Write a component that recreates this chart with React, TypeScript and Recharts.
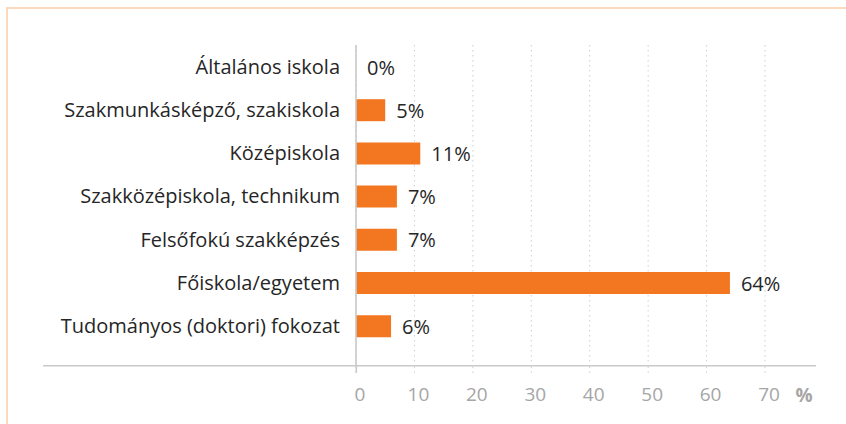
import { BarChart, Bar, XAxis, YAxis, CartesianGrid, LabelList, Customized } from 'recharts';

const categories = [
  'Általános iskola',
  'Szakmunkásképző, szakiskola',
  'Középiskola',
  'Szakközépiskola, technikum',
  'Felsőfokú szakképzés',
  'Főiskola/egyetem',
  'Tudományos (doktori) fokozat',
];
const shares = [0, 5, 11, 7, 7, 64, 6];
const xTicks = [0, 10, 20, 30, 40, 50, 60, 70];

const data = categories.map((name, i) => ({ name, value: shares[i] }));

const FONT = '"Open Sans", "Noto Sans", sans-serif';
const ORANGE = '#F37621';
const GRAY = '#A6A6A6';

// extra decoration: long baseline, solid 0 tick and the unit sign
function Decor() {
  return (
    <g>
      <line x1={43} x2={816} y1={365.7} y2={365.7} stroke="#C9C9C9" strokeWidth={1.6} />
      <line x1={356.3} x2={356.3} y1={365} y2={373} stroke="#C9C9C9" strokeWidth={1.6} />
      <text
        x={804}
        y={395}
        textAnchor="middle"
        dominantBaseline="central"
        fill={GRAY}
        fontWeight="bold"
        fontSize={19}
        fontFamily={FONT}
      >
        %
      </text>
    </g>
  );
}

function renderValue(props: any) {
  const { x, y, width, height, value } = props;
  const left = (Number(x) || 356.3) + (Number(width) || 0);
  const mid = (Number(y) || 0) + (Number(height) || 0) / 2;
  return (
    <text
      x={left + 11}
      y={mid}
      dominantBaseline="central"
      fill="#262626"
      fontSize={20}
      fontFamily={FONT}
    >
      {`${value ?? 0}%`}
    </text>
  );
}

export default function App() {
  return (
    <div style={{ position: 'absolute', left: 0, top: 0, width: 846, height: 424, background: '#fff' }}>
      <div
        style={{
          position: 'absolute',
          left: 6,
          top: 7,
          right: 0,
          bottom: 0,
          borderTop: '2px solid #FCD8BC',
          borderLeft: '2px solid #FCD8BC',
        }}
      />
      <div style={{ position: 'absolute', left: 0, top: 0 }}>
        <BarChart
          width={846}
          height={424}
          data={data}
          layout="vertical"
          margin={{ top: 45, right: 81, bottom: 18, left: 0 }}
        >
          <CartesianGrid
            horizontal={false}
            stroke="#CFCFCF"
            strokeDasharray="1.5 3.5"
          />
          <XAxis
            type="number"
            domain={[0, 70]}
            ticks={xTicks}
            axisLine={false}
            tickLine={{ stroke: '#CFCFCF', strokeDasharray: '1.5 3.5' }}
            tickSize={7}
            tickMargin={15}
            height={40}
            tick={{ fill: GRAY, fontSize: 19, fontFamily: FONT, dx: 4 }}
          />
          <YAxis
            type="category"
            dataKey="name"
            width={356}
            padding={{ top: 0, bottom: 18.6 }}
            axisLine={{ stroke: '#C9C9C9', strokeWidth: 1.6 }}
            tickLine={false}
            tickSize={0}
            tickMargin={16}
            tick={{ fill: '#262626', fontSize: 20, fontFamily: FONT }}
          />
          <Bar
            dataKey="value"
            fill={ORANGE}
            barSize={22}
            minPointSize={0.01}
            isAnimationActive={false}
          >
            <LabelList dataKey="value" content={renderValue} />
          </Bar>
          <Customized component={Decor} />
        </BarChart>
      </div>
    </div>
  );
}
